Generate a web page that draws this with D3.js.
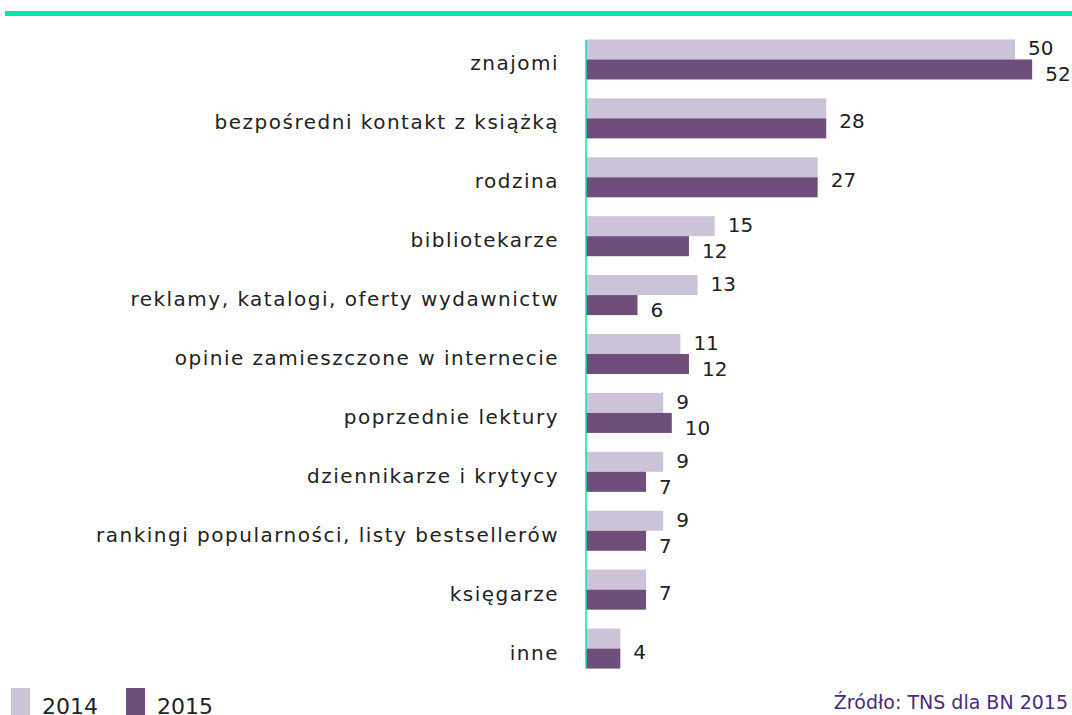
<!DOCTYPE html>
<html>
<head>
<meta charset="utf-8">
<script src="https://cdn.jsdelivr.net/npm/d3@7"></script>
<style>
  body { margin: 0; background: #fff; }
  svg text { font-family: "DejaVu Sans", sans-serif; }
</style>
</head>
<body>
<div id="chart"></div>
<script>
// data
var categories = ["znajomi", "bezpośredni kontakt z książką", "rodzina", "bibliotekarze",
    "reklamy, katalogi, oferty wydawnictw", "opinie zamieszczone w internecie",
    "poprzednie lektury", "dziennikarze i krytycy", "rankingi popularności, listy bestsellerów",
    "księgarze", "inne"];
var values2014 = [50, 28, 27, 15, 13, 11, 9, 9, 9, 7, 4];
var values2015 = [52, 28, 27, 12, 6, 12, 10, 7, 7, 7, 4];
var seriesNames = ["2014", "2015"];
var colors = ["#cdc3d9", "#704e7c"];

var W = 1072, H = 715;
var x0 = 586;

var svg = d3.select("#chart")
    .append("svg")
    .attr("width", W)
    .attr("height", H);

// top green rule
svg.append("rect")
    .attr("x", 5).attr("y", 11)
    .attr("width", W - 5).attr("height", 5)
    .attr("fill", "#0be3aa");

var x = d3.scaleLinear()
    .domain([0, 50])
    .range([x0, 1015]);

var y = d3.scaleBand()
    .domain(categories)
    .range([30, 678])
    .paddingInner(0.32)
    .paddingOuter(0.16);

var rows = categories.map(function(c, i) {
    return { cat: c, vals: [values2014[i], values2015[i]] };
});

var g = svg.selectAll("g.row")
    .data(rows)
    .enter()
    .append("g")
    .attr("class", "row")
    .attr("transform", function(d) { return "translate(0," + y(d.cat) + ")"; });

var bh = y.bandwidth() / 2;

g.selectAll("rect")
    .data(function(d) { return d.vals; })
    .enter()
    .append("rect")
    .attr("x", x0)
    .attr("y", function(d, i) { return i * bh; })
    .attr("width", function(d) { return x(d) - x0; })
    .attr("height", bh)
    .attr("fill", function(d, i) { return colors[i]; });

// value labels - one centered label when both years are equal
g.each(function(d) {
    var sel = d3.select(this);
    var labs = d.vals[0] == d.vals[1]
        ? [{ v: d.vals[0], cy: bh + 3 }]
        : [{ v: d.vals[0], cy: bh / 2 - 1 }, { v: d.vals[1], cy: bh * 1.5 + 5 }];
    sel.selectAll("text.val")
        .data(labs)
        .enter()
        .append("text")
        .attr("class", "val")
        .attr("x", function(l) { return x(l.v) + 13; })
        .attr("y", function(l) { return l.cy + 7; })
        .attr("font-size", 20)
        .attr("fill", "#222")
        .text(function(l) { return l.v; });
});

var catLabels = g.append("text")
    .attr("x", 559)
    .attr("y", bh + 11)
    .attr("text-anchor", "end")
    .attr("font-size", 20)
    .attr("fill", "#222")
    .text(function(d) { return d.cat; });

// stretch letters a bit so the widest label spans like the original
var longest = d3.max(catLabels.nodes(), function(n) { return n.getComputedTextLength(); });
var ls = (463 - longest) / 41;
catLabels.attr("letter-spacing", ls > 0 ? ls : 0);

// axis line
svg.append("line")
    .attr("x1", x0).attr("x2", x0)
    .attr("y1", 40).attr("y2", 668)
    .attr("stroke", "#0be3aa")
    .attr("stroke-width", 1.5);

// legend
var legend = svg.selectAll("g.legend")
    .data(seriesNames)
    .enter()
    .append("g")
    .attr("class", "legend")
    .attr("transform", function(d, i) { return "translate(" + (11 + i * 115) + ",688)"; });

legend.append("rect")
    .attr("width", 19).attr("height", 27)
    .attr("fill", function(d, i) { return colors[i]; });

legend.append("text")
    .attr("x", 31).attr("y", 26)
    .attr("font-size", 22)
    .attr("fill", "#222")
    .text(function(d) { return d; });

svg.append("text")
    .attr("x", 1068).attr("y", 709)
    .attr("text-anchor", "end")
    .attr("font-size", 19)
    .attr("fill", "#4b2a7b")
    .text("Źródło: TNS dla BN 2015");
</script>
</body>
</html>
